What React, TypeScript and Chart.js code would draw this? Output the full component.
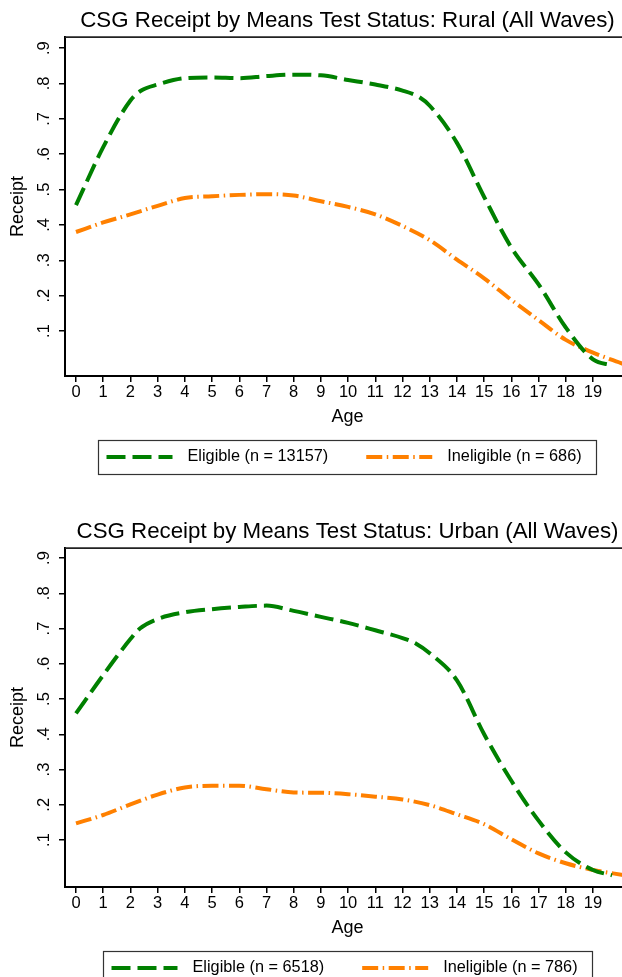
import React, { useEffect, useRef } from "react";
import { Chart, registerables } from "chart.js";

Chart.register(...registerables);

const FONT = '"Liberation Sans", Arial, Helvetica, sans-serif';

// Axis ticks
const AGE_TICKS = [0, 1, 2, 3, 4, 5, 6, 7, 8, 9, 10, 11, 12, 13, 14, 15, 16, 17, 18, 19];
const RECEIPT_TICKS = [0.1, 0.2, 0.3, 0.4, 0.5, 0.6, 0.7, 0.8, 0.9];
const RECEIPT_TICK_LABELS = [".1", ".2", ".3", ".4", ".5", ".6", ".7", ".8", ".9"];

// Rural panel: smoothed receipt rate by age
const RURAL_ELIGIBLE_AGE = [0, 1, 2, 2.4, 3, 4, 5, 6, 7, 8, 9, 10, 11, 12, 12.6, 13, 14, 15, 16, 17, 18, 19, 19.7];
const RURAL_ELIGIBLE = [0.456, 0.62, 0.752, 0.78, 0.797, 0.815, 0.817, 0.815, 0.821, 0.825, 0.823, 0.81, 0.797, 0.78, 0.762, 0.737, 0.632, 0.479, 0.336, 0.232, 0.11, 0.02, 0.003];
const RURAL_INELIGIBLE_AGE = [0, 1, 2, 3, 4, 5, 6, 7, 8, 9, 10, 11, 12, 13, 14, 15, 16, 17, 18, 19, 20.1];
const RURAL_INELIGIBLE = [0.38, 0.407, 0.43, 0.454, 0.476, 0.481, 0.485, 0.487, 0.483, 0.467, 0.451, 0.43, 0.397, 0.357, 0.302, 0.249, 0.188, 0.131, 0.075, 0.039, 0.007];

// Urban panel: smoothed receipt rate by age
const URBAN_ELIGIBLE_AGE = [0, 1, 2, 2.35, 3, 4, 5, 6, 7, 8, 9, 10, 11, 12, 12.5, 13, 14, 15, 16, 17, 18, 19, 19.7];
const URBAN_ELIGIBLE = [0.459, 0.568, 0.67, 0.7, 0.727, 0.746, 0.755, 0.761, 0.765, 0.75, 0.733, 0.716, 0.695, 0.673, 0.657, 0.63, 0.553, 0.4, 0.268, 0.155, 0.065, 0.015, 0.0];
const URBAN_INELIGIBLE_AGE = [0, 1, 2, 3, 4, 5, 6, 7, 8, 9, 10, 11, 12, 13, 14, 15, 16, 17, 18, 19, 20.1];
const URBAN_INELIGIBLE = [0.147, 0.171, 0.201, 0.229, 0.249, 0.254, 0.254, 0.244, 0.235, 0.234, 0.23, 0.223, 0.215, 0.199, 0.173, 0.145, 0.102, 0.062, 0.034, 0.015, 0.001];

const GREEN = "#008000";
const ORANGE = "#ff8000";
const ELIGIBLE_DASH = [19, 7];
const INELIGIBLE_DASH = [16, 4.5, 1.5, 4.5];

// Panel geometry (each panel canvas)
const W = 630;
const H = 511;
const PLOT_LEFT = 65;
const PLOT_BOTTOM = 376;
const LEGEND_TOP = 440;
const LEGEND_H = 34;

const frameAndLegend = {
  id: "frameAndLegend",
  afterDraw(chart: any) {
    const { ctx, chartArea } = chart;
    ctx.save();
    // plot region outline along the top
    ctx.strokeStyle = "#222";
    ctx.lineWidth = 1.7;
    ctx.setLineDash([]);
    ctx.beginPath();
    ctx.moveTo(chartArea.left, chartArea.top);
    ctx.lineTo(chartArea.right, chartArea.top);
    ctx.stroke();

    // legend
    const ds = chart.data.datasets;
    ctx.font = `16.3px ${FONT}`;
    const t1 = ctx.measureText(ds[0].label).width;
    const t2 = ctx.measureText(ds[1].label).width;
    const padL = 8, sample = 66, gapT = 15, gapItem = 38, padR = 15;
    const total = padL + sample + gapT + t1 + gapItem + sample + gapT + t2 + padR;
    const cx = (chartArea.left + chartArea.right) / 2;
    const bx = Math.round(cx - total / 2) + 0.5;
    const by = LEGEND_TOP + 0.5;
    ctx.strokeStyle = "#333";
    ctx.lineWidth = 1.2;
    ctx.strokeRect(bx, by, Math.round(total), LEGEND_H);

    const ym = LEGEND_TOP + LEGEND_H / 2;
    const drawSample = (x: number, d: any) => {
      ctx.save();
      ctx.strokeStyle = d.borderColor;
      ctx.lineWidth = d.borderWidth;
      ctx.lineCap = "butt";
      ctx.setLineDash(d.borderDash);
      ctx.beginPath();
      ctx.moveTo(x, ym);
      ctx.lineTo(x + sample, ym);
      ctx.stroke();
      ctx.restore();
    };
    ctx.fillStyle = "#000";
    ctx.textBaseline = "middle";
    ctx.textAlign = "left";
    let x = bx + padL;
    drawSample(x, ds[0]);
    x += sample + gapT;
    ctx.fillText(ds[0].label, x, ym);
    x += t1 + gapItem;
    drawSample(x, ds[1]);
    x += sample + gapT;
    ctx.fillText(ds[1].label, x, ym);
    ctx.restore();
  },
};

type PanelProps = {
  title: string;
  eligibleLabel: string;
  ineligibleLabel: string;
  eligibleAge: number[];
  eligible: number[];
  ineligibleAge: number[];
  ineligible: number[];
  yMin: number;
  yMax: number;
  top: number;
};

function Panel(props: PanelProps) {
  const ref = useRef<HTMLCanvasElement | null>(null);
  useEffect(() => {
    if (!ref.current) return;
    const toPoints = (xs: number[], ys: number[]) => xs.map((a, i) => ({ x: a, y: ys[i] }));
    const chart = new Chart(ref.current, {
      type: "line",
      data: {
        datasets: [
          {
            label: props.eligibleLabel,
            data: toPoints(props.eligibleAge, props.eligible),
            borderColor: GREEN,
            borderWidth: 4,
            borderDash: ELIGIBLE_DASH,
            pointRadius: 0,
            cubicInterpolationMode: "monotone",
            fill: false,
          },
          {
            label: props.ineligibleLabel,
            data: toPoints(props.ineligibleAge, props.ineligible),
            borderColor: ORANGE,
            borderWidth: 4,
            borderDash: INELIGIBLE_DASH,
            pointRadius: 0,
            cubicInterpolationMode: "monotone",
            fill: false,
          },
        ],
      },
      options: {
        animation: false,
        responsive: false,
        devicePixelRatio: 1,
        layout: { padding: { left: 0, right: 0, top: 0, bottom: H - LEGEND_TOP } },
        plugins: {
          legend: { display: false },
          tooltip: { enabled: false },
          title: {
            display: true,
            text: props.title,
            fullSize: false,
            color: "#000",
            font: { family: FONT, size: 22.3, weight: "normal" },
            padding: { top: 7.2, bottom: 3.2 },
          },
        },
        scales: {
          x: {
            type: "linear",
            min: -0.404,
            max: 20.36,
            afterBuildTicks: (s: any) => {
              s.ticks = AGE_TICKS.map((v) => ({ value: v }));
            },
            afterFit: (s: any) => {
              s.height = LEGEND_TOP - PLOT_BOTTOM;
              s.paddingLeft = 0;
              s.paddingRight = 0;
            },
            ticks: {
              autoSkip: false,
              maxRotation: 0,
              padding: 1,
              color: "#000",
              font: { family: FONT, size: 16.5 },
              callback: (v: any) => String(v),
            },
            grid: { drawOnChartArea: false, drawTicks: true, tickLength: 6, color: "#000", lineWidth: 1.5 },
            border: { display: true, color: "#000", width: 2 },
            title: {
              display: true,
              text: "Age",
              color: "#000",
              font: { family: FONT, size: 18 },
              padding: { top: 0, bottom: 11.7 },
            },
          },
          y: {
            type: "linear",
            min: props.yMin,
            max: props.yMax,
            afterBuildTicks: (s: any) => {
              s.ticks = RECEIPT_TICKS.map((v) => ({ value: v }));
            },
            afterFit: (s: any) => {
              s.width = PLOT_LEFT;
              s.paddingTop = 0;
              s.paddingBottom = 0;
            },
            ticks: {
              minRotation: 90,
              maxRotation: 90,
              crossAlign: "center",
              padding: 8,
              color: "#000",
              font: { family: FONT, size: 16.5 },
              callback: (v: any) => {
                const i = RECEIPT_TICKS.findIndex((t) => Math.abs(t - v) < 1e-9);
                return i >= 0 ? RECEIPT_TICK_LABELS[i] : "";
              },
            },
            grid: { drawOnChartArea: false, drawTicks: true, tickLength: 6, color: "#000", lineWidth: 1.5 },
            border: { display: true, color: "#000", width: 2 },
            title: {
              display: true,
              text: "Receipt",
              color: "#000",
              font: { family: FONT, size: 18 },
              padding: { top: 7.2, bottom: 0 },
            },
          },
        },
      } as any,
      plugins: [frameAndLegend],
    });
    return () => chart.destroy();
  }, []);
  return (
    <canvas
      ref={ref}
      width={W}
      height={H}
      style={{ position: "absolute", left: 0, top: props.top, width: W, height: H }}
    />
  );
}

export default function App() {
  return (
    <div
      style={{
        position: "absolute",
        left: 0,
        top: 0,
        width: 622,
        height: 977,
        overflow: "hidden",
        background: "#fff",
      }}
    >
      <Panel
        title="CSG Receipt by Means Test Status: Rural (All Waves)"
        eligibleLabel="Eligible (n = 13157)"
        ineligibleLabel="Ineligible (n = 686)"
        eligibleAge={RURAL_ELIGIBLE_AGE}
        eligible={RURAL_ELIGIBLE}
        ineligibleAge={RURAL_INELIGIBLE_AGE}
        ineligible={RURAL_INELIGIBLE}
        yMin={-0.0272}
        yMax={0.931}
        top={0}
      />
      <Panel
        title="CSG Receipt by Means Test Status: Urban (All Waves)"
        eligibleLabel="Eligible (n = 6518)"
        ineligibleLabel="Ineligible (n = 786)"
        eligibleAge={URBAN_ELIGIBLE_AGE}
        eligible={URBAN_ELIGIBLE}
        ineligibleAge={URBAN_INELIGIBLE_AGE}
        ineligible={URBAN_INELIGIBLE}
        yMin={-0.0333}
        yMax={0.928}
        top={511}
      />
    </div>
  );
}
